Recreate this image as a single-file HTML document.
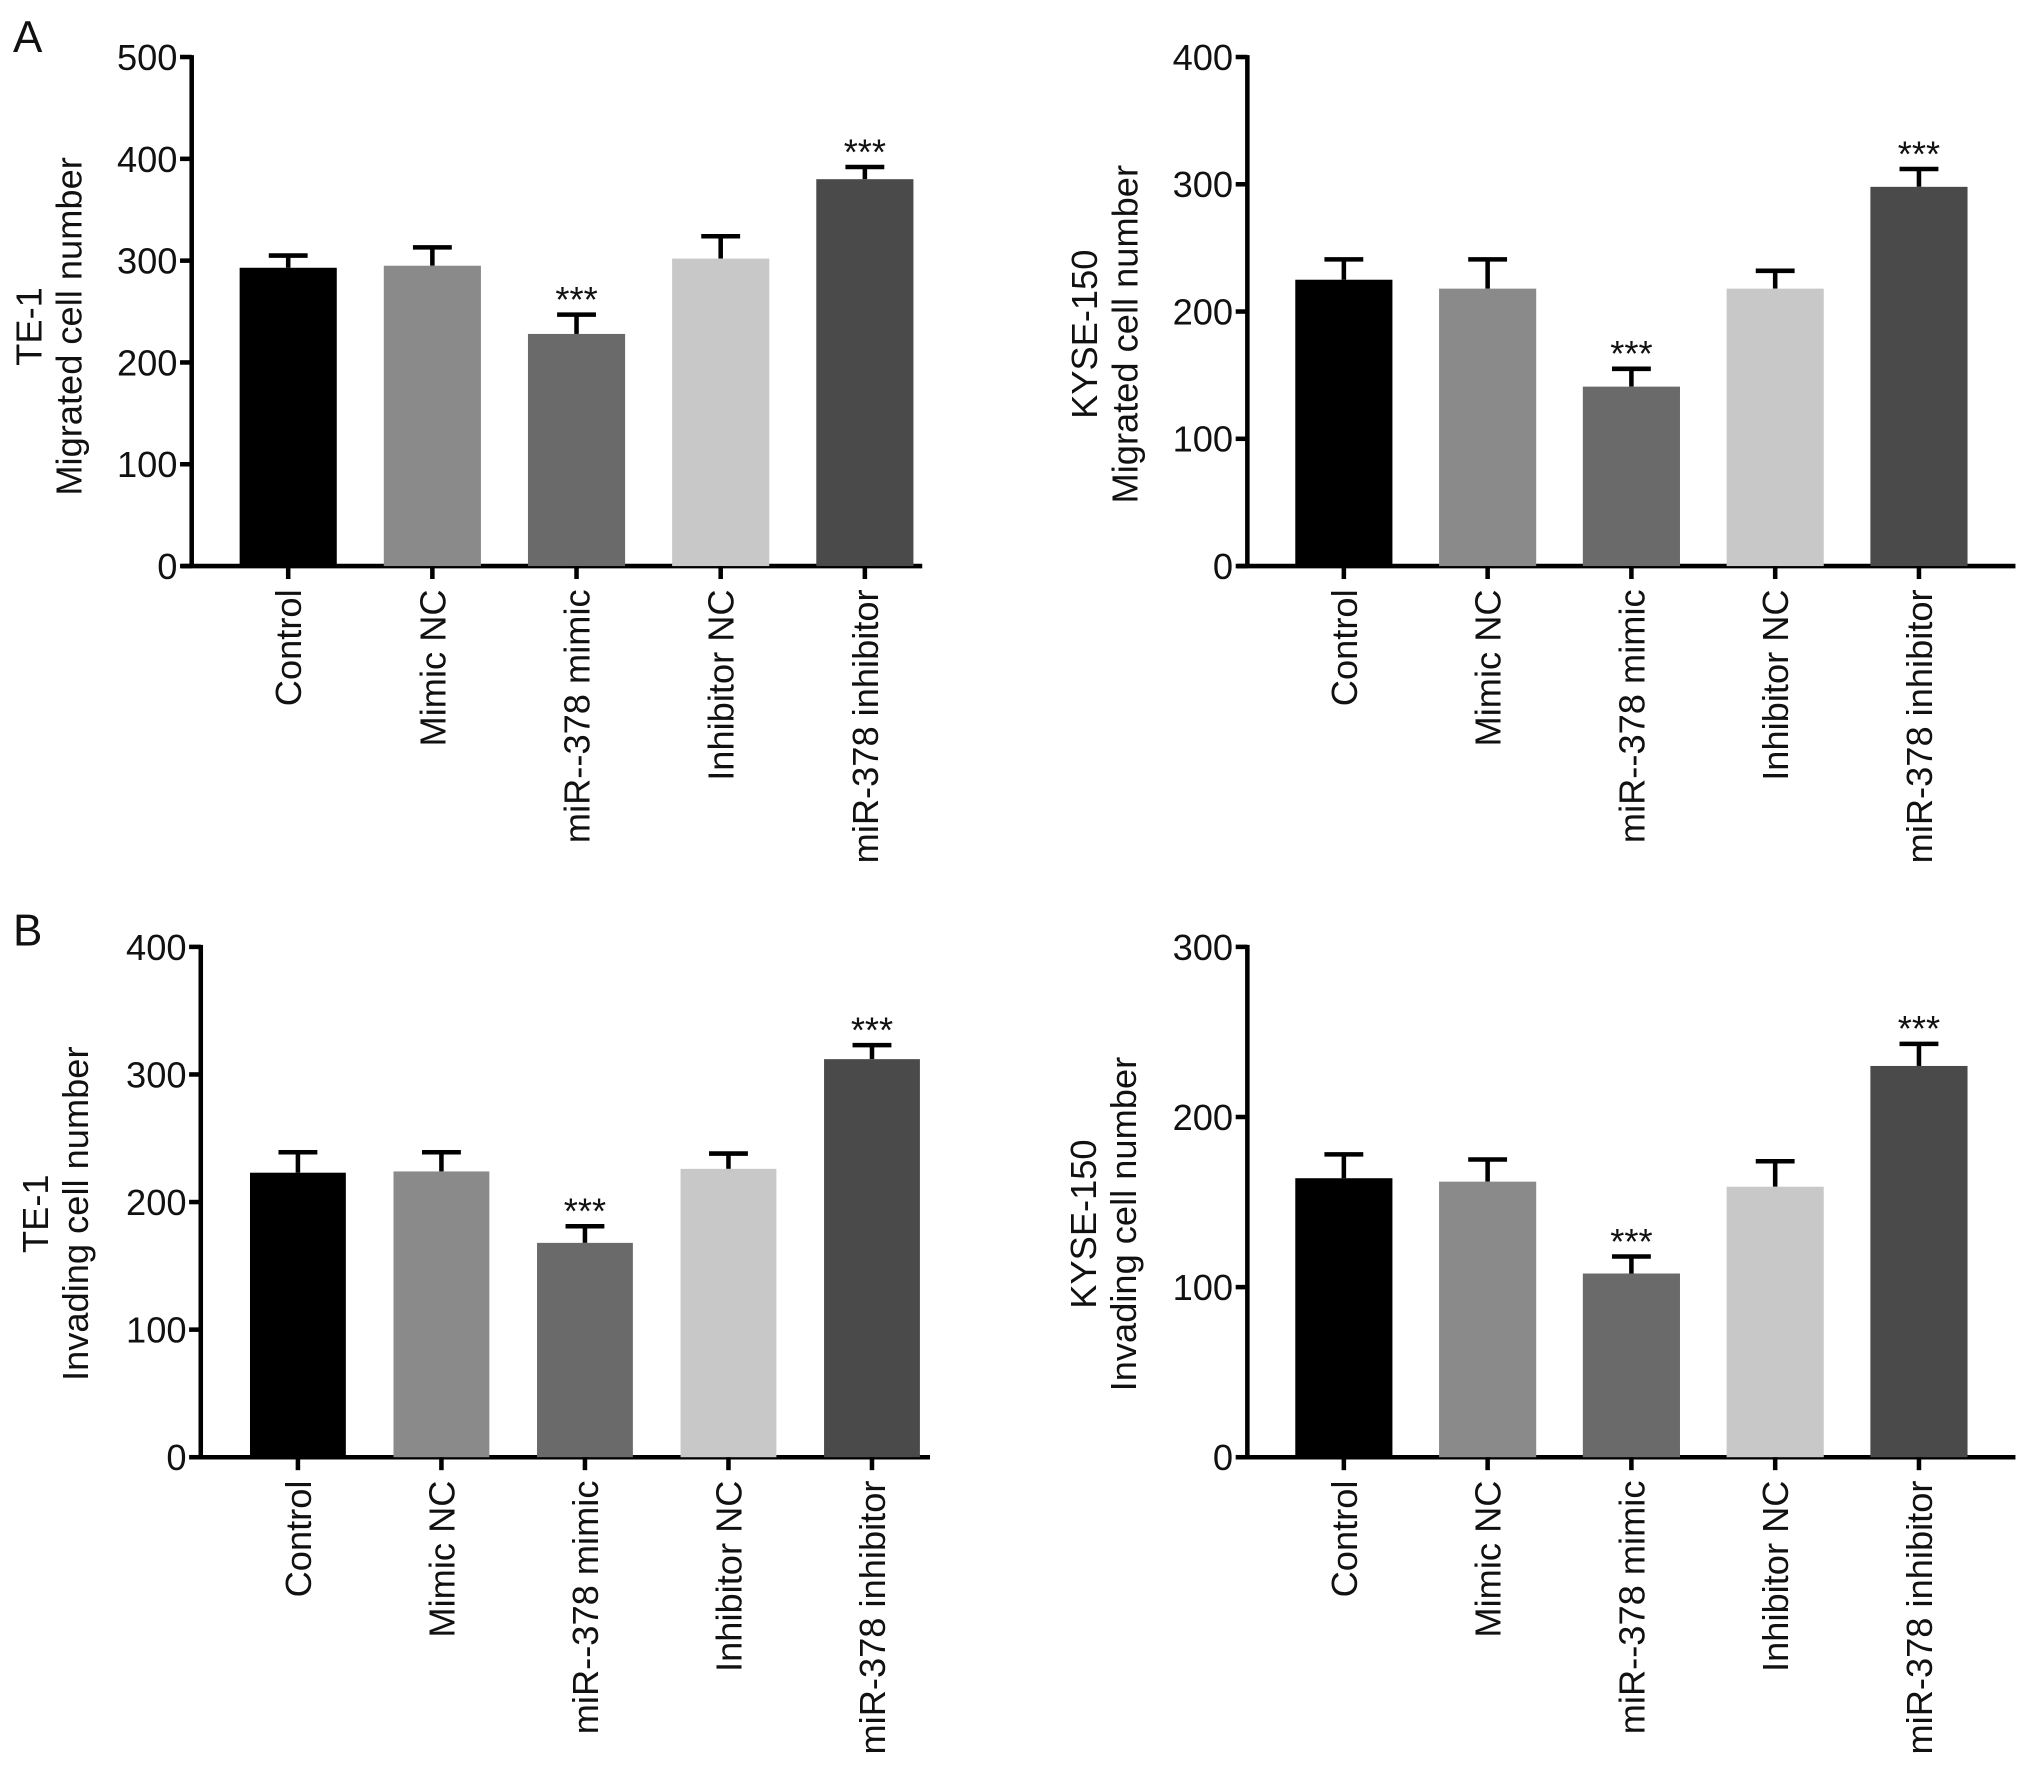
<!DOCTYPE html>
<html><head><meta charset="utf-8"><style>
html,body{margin:0;padding:0;background:#fff}
svg{display:block}
text{font-family:"Liberation Sans",Arial,sans-serif;fill:#111}
</style></head><body>
<svg id="fig" width="2031" height="1772" viewBox="0 0 1568 1368" xmlns="http://www.w3.org/2000/svg">
<text x="10" y="40" font-size="34">A</text>
<text x="10" y="730" font-size="34">B</text>
</svg>
<script>
const categories = ["Control","Mimic NC","miR--378 mimic","Inhibitor NC","miR-378 inhibitor"];
const colors = ["#000000","#8a8a8a","#6a6a6a","#c8c8c8","#4a4a4a"];
const aLeftValues = [293,295,228,302,380];
const aLeftErr = [12,18,19,22,12];
const aRightValues = [225,218,141,218,298];
const aRightErr = [16,23,14,14,14];
const bLeftValues = [223,224,168,226,312];
const bLeftErr = [16,15,13,12,11];
const bRightValues = [164,162,108,159,230];
const bRightErr = [14,13,10,15,13];
const aLeftTicks = [0,100,200,300,400,500];
const aRightTicks = [0,100,200,300,400];
const bLeftTicks = [0,100,200,300,400];
const bRightTicks = [0,100,200,300];
const stars = ["","","***","","***"];

const NS="http://www.w3.org/2000/svg";
const svg=document.getElementById('fig');
function mk(tag,attrs,parent){const e=document.createElementNS(NS,tag);for(const k in attrs)e.setAttribute(k,attrs[k]);(parent||svg).appendChild(e);return e;}

function chart(cfg){
  const g=mk('g',{});
  
  
  const max=cfg.ticks[cfg.ticks.length-1];
  const y=v=>cfg.y0-(v/max)*(cfg.y0-cfg.yTop);
  const bx=i=>cfg.firstBar+i*cfg.step;
  const ya=mk('line',{x1:cfg.ax,y1:cfg.yTop-1.5,x2:cfg.ax,y2:cfg.y0+1.5,stroke:'#000','stroke-width':3.5},g);
  
  
  const xa=mk('line',{x1:cfg.ax-8,y1:cfg.y0,x2:cfg.axEnd,y2:cfg.y0,stroke:'#000','stroke-width':3.5},g);
  
  
  cfg.ticks.forEach(t=>{
    const yy=y(t);
    mk('line',{x1:cfg.ax-9,y1:yy,x2:cfg.ax,y2:yy,stroke:'#000','stroke-width':3.5},g);
    const tl=mk('text',{x:cfg.ax-11,y:yy+10,'font-size':28,'text-anchor':'end'},g);
    tl.textContent=t;
    
    
  });
  cfg.values.forEach((v,i)=>{
    const x=bx(i), cx=x+cfg.bw/2;
    const top=y(v+cfg.err[i]);
    mk('line',{x1:cx,y1:y(v),x2:cx,y2:top,stroke:'#000','stroke-width':3.5},g);
    mk('line',{x1:cx-15,y1:top,x2:cx+15,y2:top,stroke:'#000','stroke-width':3.5},g);
    const r=mk('rect',{x:x,y:y(v),width:cfg.bw,height:cfg.y0-y(v),fill:colors[i]},g);
    
    
    mk('line',{x1:cx,y1:cfg.y0,x2:cx,y2:cfg.y0+10,stroke:'#000','stroke-width':3.5},g);
    if(stars[i]){
      const s=mk('text',{x:cx,y:top-2,'font-size':28,'text-anchor':'middle'},g);
      s.textContent=stars[i];
      
      
    }
    const cl=mk('text',{x:0,y:0,'font-size':28,'text-anchor':'end',transform:`translate(${cx+10},${cfg.y0+18}) rotate(-90)`},g);
    cl.textContent=categories[i];
    
    
  });
  const t1=mk('text',{x:0,y:0,'font-size':28,'text-anchor':'middle',transform:`translate(${cfg.tx},${cfg.tcy}) rotate(-90)`},g);
  t1.textContent=cfg.title1;
  
  
  const t2=mk('text',{x:0,y:0,'font-size':28,'text-anchor':'middle',transform:`translate(${cfg.tx+31},${cfg.tcy}) rotate(-90)`},g);
  t2.textContent=cfg.title2;
  
  
}
chart({name:'chart-a-te1',values:aLeftValues,err:aLeftErr,ticks:aLeftTicks,ax:148,axEnd:712,yTop:44,y0:437,firstBar:185,step:111.3,bw:75,tx:32,tcy:252,title1:'TE-1',title2:'Migrated cell number'});
chart({name:'chart-a-kyse150',values:aRightValues,err:aRightErr,ticks:aRightTicks,ax:963,axEnd:1556,yTop:44,y0:437,firstBar:1000,step:111,bw:75,tx:847,tcy:258,title1:'KYSE-150',title2:'Migrated cell number'});
chart({name:'chart-b-te1',values:bLeftValues,err:bLeftErr,ticks:bLeftTicks,ax:155,axEnd:718,yTop:731,y0:1125,firstBar:193,step:110.8,bw:74,tx:37,tcy:937,title1:'TE-1',title2:'Invading cell number'});
chart({name:'chart-b-kyse150',values:bRightValues,err:bRightErr,ticks:bRightTicks,ax:963,axEnd:1556,yTop:731,y0:1125,firstBar:1000,step:111,bw:75,tx:846,tcy:945,title1:'KYSE-150',title2:'Invading  cell number'});
</script>
</body></html>
